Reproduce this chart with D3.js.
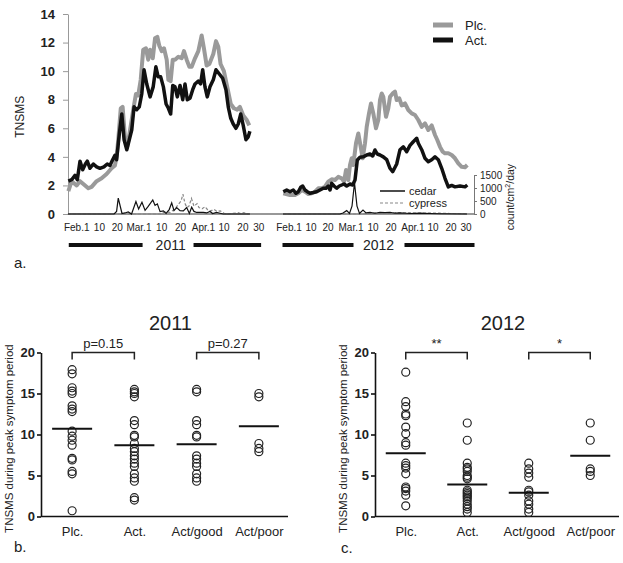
<!DOCTYPE html>
<html>
<head>
<meta charset="utf-8">
<title>TNSMS</title>
<script src="https://cdn.jsdelivr.net/npm/d3@7/dist/d3.min.js"></script>
<style>
body {margin: 0; background: #fff}
text {font-family: "Liberation Sans", Arial, sans-serif; fill: #222}
.lbl path, .lbl line {stroke: none}
</style>
</head>
<body>
<svg width="623" height="563"></svg>
<script>
/// daily scores, [days from Feb.1, TNSMS]
var plc2011 = [[-5.7,1.6],[-4.1,2.3],[-1.7,2.0],[-0.1,2.3],[1.5,2.1],[3.9,1.8],[5.5,1.9],[7.9,2.3],[10.3,2.5],[12.7,2.8],[15.1,3.2],[16.7,3.4],[17.5,4.0],[18.3,5.2],[19.5,7.4],[20.4,7.5],[21.5,5.4],[22.6,4.7],[23.9,5.8],[25.5,7.3],[26.8,8.4],[27.9,8.3],[29.1,9.4],[30.3,11.5],[31.6,11.6],[32.7,10.8],[33.6,11.5],[34.9,10.9],[36.0,12.3],[37.1,12.4],[38.0,11.8],[39.2,11.4],[40.3,11.6],[41.6,10.8],[42.4,9.4],[43.5,9.3],[44.5,10.8],[45.6,10.8],[47.2,11.0],[48.8,10.9],[49.9,11.4],[51.2,10.8],[52.5,10.3],[53.6,10.3],[55.2,10.9],[56.8,11.4],[58.4,12.5],[59.5,11.6],[60.8,10.4],[62.1,10.5],[64.0,11.2],[65.3,12.1],[66.4,11.7],[67.5,10.5],[69.1,10.0],[70.7,8.9],[72.4,7.7],[73.9,7.4],[75.5,7.3],[76.8,7.5],[78.4,6.9],[80.0,6.6],[81.3,6.2]];
var act2011 = [[-5.7,2.3],[-4.1,2.4],[-2.5,2.7],[-1.4,2.4],[-0.1,3.7],[1.2,3.1],[2.5,3.5],[3.4,3.7],[4.7,3.2],[6.3,3.5],[7.9,3.3],[9.5,3.2],[11.4,3.3],[13.0,3.5],[14.3,3.4],[15.6,3.8],[16.7,4.1],[17.5,3.8],[18.8,5.6],[20.0,7.0],[21.1,5.2],[22.4,4.5],[23.6,5.2],[24.8,5.9],[25.9,7.5],[27.2,7.3],[28.4,7.5],[29.6,8.4],[30.7,10.1],[32.0,9.1],[33.6,8.2],[35.1,8.9],[36.4,10.3],[37.5,9.6],[38.7,9.6],[40.0,8.9],[41.3,7.7],[42.4,7.4],[43.5,7.0],[44.5,9.0],[45.6,8.9],[46.7,8.2],[48.0,9.0],[49.3,8.0],[50.4,9.1],[51.5,8.0],[52.8,8.1],[54.1,8.7],[55.2,9.1],[56.8,9.3],[57.9,9.1],[58.9,10.1],[60.0,8.9],[61.1,8.2],[62.4,8.9],[64.0,9.4],[65.3,10.1],[66.9,9.8],[68.5,9.5],[70.1,8.7],[71.2,7.5],[72.4,6.7],[73.6,6.3],[74.9,6.0],[76.0,6.3],[77.2,7.0],[78.4,6.2],[79.7,5.2],[80.8,5.4],[81.6,5.8]];
var plc2012 = [[-4.6,1.45],[-1.25,1.33],[1.25,1.33],[2.9,1.45],[4.6,1.68],[6.25,1.56],[7.9,1.4],[9.6,1.45],[11.25,1.56],[12.9,1.8],[14.6,1.8],[16.25,1.91],[17.9,2.26],[19.6,2.43],[21.25,2.38],[22.9,2.6],[24.6,2.5],[25.75,2.26],[26.75,3.08],[27.9,2.38],[28.75,3.43],[29.6,3.9],[30.4,3.43],[31.75,4.95],[32.9,5.64],[34.1,4.7],[35.1,3.9],[36.25,4.95],[37.1,6.1],[38.25,7.04],[39.25,7.74],[40.4,7.04],[41.75,6.0],[42.9,6.58],[43.75,7.98],[44.6,8.44],[45.4,8.2],[46.75,6.8],[47.9,7.4],[48.75,8.2],[50.1,8.44],[51.25,8.56],[52.1,7.98],[53.4,8.1],[54.6,7.6],[56.25,7.74],[57.9,7.28],[59.6,7.04],[61.25,6.93],[62.9,6.58],[64.6,6.1],[66.25,6.34],[67.9,5.88],[69.6,6.2],[71.25,5.53],[72.4,5.18],[73.75,4.7],[75.1,4.36],[76.25,4.25],[77.9,4.25],[79.6,4.13],[81.25,3.9],[82.9,3.55],[84.6,3.3],[86.25,3.27],[87.4,3.43]];
var act2012 = [[-4.6,1.56],[-2.9,1.68],[-1.25,1.56],[0.4,1.68],[1.75,1.45],[2.9,1.56],[4.1,1.87],[5.1,1.96],[6.25,1.68],[7.4,1.56],[8.75,1.45],[10.4,1.5],[12.1,1.56],[13.75,1.68],[15.4,1.8],[16.75,1.8],[17.9,1.96],[18.75,1.68],[19.6,2.15],[20.75,1.96],[22.1,1.8],[23.4,1.96],[24.6,2.03],[25.75,2.1],[27.1,1.96],[28.75,2.1],[30.1,2.03],[31.25,2.38],[32.4,3.78],[33.75,3.97],[35.4,4.0],[37.1,4.13],[38.75,4.2],[40.1,4.06],[41.25,4.48],[42.4,4.2],[43.75,4.13],[45.4,4.0],[47.1,3.8],[48.75,3.2],[50.1,2.96],[52.1,3.5],[53.75,4.5],[55.4,4.7],[57.1,4.36],[58.75,4.8],[60.4,5.06],[62.1,5.3],[62.9,4.95],[64.6,4.5],[66.25,3.9],[67.9,3.66],[69.6,3.8],[71.25,4.0],[72.9,3.8],[74.6,3.2],[76.25,2.5],[77.9,1.9],[79.6,2.0],[81.25,1.9],[83.75,1.96],[86.25,1.9],[87.4,2.03]];

/// pollen, [days from Feb.1, count/cm2/day]
var cedar2011 = [[-5.9,0],[16.3,0],[17.5,100],[18.3,610],[19.4,250],[20.1,20],[21.5,40],[23.1,80],[24.7,0],[26.8,480],[28.1,190],[29.7,450],[31.2,140],[32.7,290],[34.9,540],[36.0,330],[37.1,390],[38.4,90],[40.0,120],[41.3,20],[42.8,170],[44.0,430],[45.1,130],[46.4,250],[48.0,130],[49.6,120],[51.2,250],[52.5,20],[53.6,260],[54.7,100],[56.0,60],[57.6,60],[59.2,60],[60.8,40],[62.4,100],[63.7,20],[65.6,60],[67.2,30],[68.8,0],[81.6,0]];
var cypress2011 = [[-5.9,0],[38.4,0],[40.8,80],[43.2,60],[45.6,200],[47.0,350],[48.5,500],[49.4,760],[50.4,400],[51.3,250],[52.3,300],[53.5,600],[54.7,300],[56.2,400],[57.1,250],[58.6,200],[60.0,280],[61.4,150],[62.9,120],[64.3,180],[65.8,100],[67.3,120],[69.2,30],[71.1,0],[75.9,50],[77.3,10],[78.7,50],[80.1,0],[81.6,0]];
var cedar2012 = [[-4.75,0],[23.75,0],[25.25,40],[27.1,130],[28.5,20],[29.75,300],[31,1200],[32.25,300],[33.5,20],[35.25,150],[36.75,40],[38.75,60],[41.25,30],[43.75,60],[46.25,50],[48.75,60],[51.25,30],[53.75,40],[58.75,20],[63.75,30],[68.75,20],[73.75,10],[87.25,0]];
var cypress2012 = [[-4.75,0],[33.75,0],[38.75,30],[43.75,50],[48.75,40],[53.75,40],[58.75,50],[63.75,30],[68.75,40],[73.75,30],[78.75,20],[87.25,10]];

var tickDays2011 = [0, 9, 19, 28, 37, 47, 59, 68, 78, 88];
var tickDays2012 = [0, 9, 19, 29, 38, 48, 60, 69, 79, 89];
var tickLabels = ["Feb.1", "10", "20", "Mar.1", "10", "20", "Apr.1", "10", "20", "30"];

/// peak period scores per patient
var groups = ["Plc.", "Act.", "Act/good", "Act/poor"];
var plcDots2011 = [17.9, 17.4, 15.7, 15.3, 15.0, 13.5, 13.1, 12.8, 10.4, 9.8, 9.3, 8.7, 7.1, 6.9, 5.5, 5.2, 0.7];
var actDots2011 = [15.5, 15.2, 15.0, 14.6, 11.7, 11.2, 9.9, 9.7, 8.9, 8.3, 7.9, 7.4, 7.0, 6.5, 6.1, 5.2, 4.7, 4.3, 2.3, 2.0];
var goodDots2011 = [15.5, 15.2, 11.7, 11.2, 9.9, 9.7, 7.4, 7.0, 6.5, 6.1, 5.2, 4.7, 4.3];
var poorDots2011 = [15.0, 14.6, 8.9, 8.3, 7.9];
var means2011 = [10.7, 8.7, 8.8, 11.0];
var stats2011 = ["p=0.15", "p=0.27"];

var plcDots2012 = [17.6, 14.0, 13.4, 12.5, 12.3, 10.9, 10.1, 9.0, 8.7, 6.5, 6.2, 5.9, 5.2, 3.6, 3.4, 3.1, 2.6, 1.3];
var actDots2012 = [11.4, 9.3, 6.5, 6.0, 5.8, 5.5, 5.0, 4.8, 4.6, 3.2, 3.0, 2.8, 2.6, 2.4, 2.2, 1.9, 1.5, 1.2, 0.9, 0.5];
var goodDots2012 = [6.5, 5.8, 5.3, 4.8, 3.2, 3.0, 2.6, 1.9, 1.5, 0.9, 0.5];
var poorDots2012 = [11.4, 9.3, 5.8, 5.5, 5.0];
var means2012 = [7.7, 3.9, 2.9, 7.4];
var stats2012 = ["**", "*"];

var svg = d3.select("svg");

/// ---- a. time series
var y = d3.scaleLinear().domain([0, 14]).range([214, 14]);
var yPollen = d3.scaleLinear().domain([0, 1500]).range([214, 175]);
var x2011 = d3.scaleLinear().domain([0, 88]).range([80.2, 263.2]);
var x2012 = d3.scaleLinear().domain([0, 89]).range([292.5, 470.5]);

var gA = svg.append("g");

var yAxis = gA.append("g")
	.attr("transform", "translate(68,0)")
	.call(d3.axisLeft(y).tickValues(d3.range(0, 15, 2)).tickSize(5).tickSizeOuter(0).tickPadding(8));
yAxis.selectAll("path, line").attr("stroke", "#999");
yAxis.selectAll("text").attr("font-size", 13).attr("font-weight", "bold").attr("fill", "#222");

// baseline under both seasons
gA.append("line")
	.attr("x1", x2011(-5.7)).attr("x2", x2012(91))
	.attr("y1", y(0)).attr("y2", y(0))
	.attr("stroke", "#333").attr("stroke-width", 1.2);

// the labels were nudged sideways in the original so they do not collide
var nudge = [-4, 0, -3, 0, 4, 2, 0, 2, 0, -5];
[[x2011, tickDays2011], [x2012, tickDays2012]].forEach(function (p) {
	var ax = gA.append("g")
		.classed("lbl", true)
		.attr("transform", "translate(0," + y(0) + ")")
		.call(d3.axisBottom(p[0]).tickValues(p[1]).tickSize(0).tickPadding(10)
			.tickFormat(function (d, i) {return tickLabels[i]}));
	ax.selectAll("text")
		.attr("font-size", 10)
		.attr("fill", "#222")
		.attr("dx", function (d, i) {return nudge[i]});
});

var rAxis = gA.append("g")
	.attr("transform", "translate(474,0)")
	.call(d3.axisRight(yPollen).tickValues([0, 500, 1000, 1500]).tickFormat(d3.format("d"))
		.tickSize(3).tickSizeOuter(3).tickPadding(3));
rAxis.selectAll("path, line").attr("stroke", "#777");
rAxis.selectAll("text").attr("font-size", 10).attr("fill", "#222");

gA.append("text")
	.attr("transform", "translate(514," + yPollen(650) + ") rotate(-90)")
	.attr("text-anchor", "middle")
	.attr("font-size", 10.5)
	.html("count/cm<tspan font-size='7' dy='-4'>2</tspan><tspan dy='4'>/day</tspan>");

gA.append("text")
	.attr("transform", "translate(24," + y(6.8) + ") rotate(-90)")
	.attr("text-anchor", "middle")
	.attr("font-size", 12)
	.text("TNSMS");

function season(xs, plc, act, cedar, cypress) {
	var pl = d3.line().x(function (d) {return xs(d[0])}).y(function (d) {return yPollen(d[1])});
	var sl = d3.line().x(function (d) {return xs(d[0])}).y(function (d) {return y(d[1])});
	gA.append("path").attr("d", pl(cypress)).attr("fill", "none")
		.attr("stroke", "#888").attr("stroke-width", 1.2).attr("stroke-dasharray", "3,2");
	gA.append("path").attr("d", pl(cedar)).attr("fill", "none")
		.attr("stroke", "#111").attr("stroke-width", 1.2);
	gA.append("path").attr("d", sl(plc)).attr("fill", "none")
		.attr("stroke", "#9a9a9a").attr("stroke-width", 4).attr("stroke-linejoin", "round");
	gA.append("path").attr("d", sl(act)).attr("fill", "none")
		.attr("stroke", "#111").attr("stroke-width", 3.5).attr("stroke-linejoin", "round");
}
season(x2011, plc2011, act2011, cedar2011, cypress2011);
season(x2012, plc2012, act2012, cedar2012, cypress2012);

// legends
gA.append("line").attr("x1", 433).attr("x2", 453).attr("y1", 25).attr("y2", 25)
	.attr("stroke", "#9a9a9a").attr("stroke-width", 5);
gA.append("line").attr("x1", 433).attr("x2", 453).attr("y1", 40).attr("y2", 40)
	.attr("stroke", "#111").attr("stroke-width", 5);
gA.append("text").attr("x", 465).attr("y", 29.5).attr("font-size", 13).text("Plc.");
gA.append("text").attr("x", 465).attr("y", 44.5).attr("font-size", 13).text("Act.");

gA.append("line").attr("x1", 380).attr("x2", 405).attr("y1", 191).attr("y2", 191)
	.attr("stroke", "#111").attr("stroke-width", 1.5);
gA.append("line").attr("x1", 380).attr("x2", 405).attr("y1", 203).attr("y2", 203)
	.attr("stroke", "#888").attr("stroke-width", 1.2).attr("stroke-dasharray", "3,2");
gA.append("text").attr("x", 409).attr("y", 195).attr("font-size", 11).text("cedar");
gA.append("text").attr("x", 409).attr("y", 207).attr("font-size", 11).text("cypress");

// year bars
[[x2011, "2011", -5.5, 30, 54.5, 87, 43.5], [x2012, "2012", -5, 30.5, 56, 91, 43]].forEach(function (b) {
	var xs = b[0];
	gA.append("line").attr("x1", xs(b[2])).attr("x2", xs(b[3])).attr("y1", 245).attr("y2", 245)
		.attr("stroke", "#111").attr("stroke-width", 4);
	gA.append("line").attr("x1", xs(b[4])).attr("x2", xs(b[5])).attr("y1", 245).attr("y2", 245)
		.attr("stroke", "#111").attr("stroke-width", 4);
	gA.append("text").attr("x", xs(b[6])).attr("y", 250).attr("text-anchor", "middle")
		.attr("font-size", 14).text(b[1]);
});

/// ---- b. / c. dot plots
var yb = d3.scaleLinear().domain([0, 20]).range([516.5, 352.5]);

function dotPanel(r0, r1, title, cols, means, stats) {
	var xs = d3.scalePoint().domain(groups).range([r0, r1]).padding(0.5);
	var g = svg.append("g");

	var ax = g.append("g")
		.attr("transform", "translate(" + r0 + ",0)")
		.call(d3.axisLeft(yb).tickValues([0, 5, 10, 15, 20]).tickSize(4).tickSizeOuter(0).tickPadding(2));
	ax.selectAll("path, line").attr("stroke", "#111").attr("stroke-width", 1.6);
	ax.selectAll("text").attr("font-size", 13).attr("font-weight", "bold").attr("fill", "#222");

	var bx = g.append("g")
		.attr("transform", "translate(0," + yb(0) + ")")
		.call(d3.axisBottom(xs).tickSize(0).tickSizeOuter(0).tickPadding(10));
	bx.select(".domain").attr("d", "M" + r0 + ",0H" + (r1 - 2)).attr("stroke", "#111").attr("stroke-width", 1.6);
	bx.selectAll("text").attr("font-size", 13).attr("fill", "#222");

	cols.forEach(function (vals, i) {
		g.append("g").selectAll("circle")
			.data(vals)
			.enter()
			.append("circle")
				.attr("cx", xs(groups[i]))
				.attr("cy", function (d) {return yb(d)})
				.attr("r", 4)
				.attr("fill", "none")
				.attr("stroke", "#222")
				.attr("stroke-width", 1.2);
		g.append("line")
			.attr("x1", xs(groups[i]) - 20).attr("x2", xs(groups[i]) + 20)
			.attr("y1", yb(means[i])).attr("y2", yb(means[i]))
			.attr("stroke", "#111").attr("stroke-width", 2);
	});

	[[0, 1], [2, 3]].forEach(function (pair, k) {
		var a = xs(groups[pair[0]]), b = xs(groups[pair[1]]), top = yb(20);
		g.append("path")
			.attr("d", "M" + a + "," + (top + 7) + "V" + top + "H" + b + "V" + (top + 7))
			.attr("fill", "none").attr("stroke", "#222").attr("stroke-width", 1.5);
		g.append("text")
			.attr("x", (a + b) / 2).attr("y", top - 5)
			.attr("text-anchor", "middle").attr("font-size", 13)
			.text(stats[k]);
	});

	g.append("text")
		.attr("x", (r0 + r1) / 2 + 5).attr("y", 330)
		.attr("text-anchor", "middle").attr("font-size", 20)
		.text(title);

	g.append("text")
		.attr("transform", "translate(" + (r0 - 28) + "," + yb(9.5) + ") rotate(-90)")
		.attr("text-anchor", "middle").attr("font-size", 11.5)
		.text("TNSMS during peak symptom period");
}

dotPanel(41, 290, "2011", [plcDots2011, actDots2011, goodDots2011, poorDots2011], means2011, stats2011);
dotPanel(375, 621, "2012", [plcDots2012, actDots2012, goodDots2012, poorDots2012], means2012, stats2012);

// panel letters
svg.append("text").attr("x", 14).attr("y", 268).attr("font-size", 15).text("a.");
svg.append("text").attr("x", 14).attr("y", 552).attr("font-size", 15).text("b.");
svg.append("text").attr("x", 341).attr("y", 553).attr("font-size", 15).text("c.");
</script>
</body>
</html>
